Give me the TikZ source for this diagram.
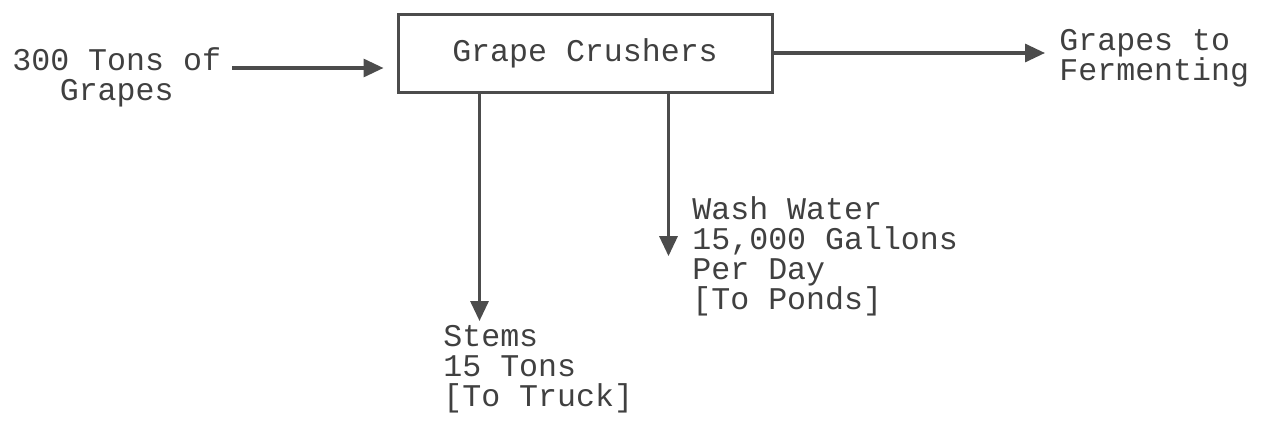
\documentclass[tikz,border=0pt]{standalone}
\usepackage{fontspec}
\newfontfamily\typewfont{Liberation Mono}
\usetikzlibrary{arrows.meta}

\begin{document}
\begin{tikzpicture}[
        x=0.5pt, y=-0.5pt,
        font=\typewfont\fontsize{15.8}{15}\selectfont,
        text=black!75,
        box/.style={draw=black!70, line width=1.5pt, minimum width=187pt,
                    minimum height=39pt, inner sep=0pt},
        lbl/.style={align=left, inner sep=0pt, anchor=north west},
        arr/.style={-{Triangle[length=10pt, width=9pt]}, line width=1.6pt, draw=black!70}
    ]
    \useasboundingbox (0,0) rectangle (1262,423);
    \node[box] (crush) at (585,53) {Grape Crushers};
    \node[lbl, align=center] (grapesin) at (12,47) {300 Tons of\\Grapes};
    \node[lbl] (ferment) at (1059,29) {Grapes to\\Fermenting};
    \node[lbl] (stems) at (443,325) {Stems\\15 Tons\\{[}To Truck{]}};
    \node[lbl] (wash) at (692,196) {Wash Water\\15,000 Gallons\\Per Day\\{[}To Ponds{]}};
    \coordinate (inflow) at (232,68);
    \coordinate (stemsout) at ([xshift=41.5pt]crush.south west);
    \coordinate (washout) at ([xshift=136pt]crush.south west);
    \draw[arr, shorten >=6.5pt] (inflow) -- (inflow -| crush.west);
    \draw[arr, shorten >=7pt] (crush.east) -- (crush.east -| ferment.west);
    \draw[arr, shorten >=2pt] (stemsout) -- (stemsout |- stems.north);
    \draw[arr] (washout) -- (washout |- wash.west);
\end{tikzpicture}
\end{document}
